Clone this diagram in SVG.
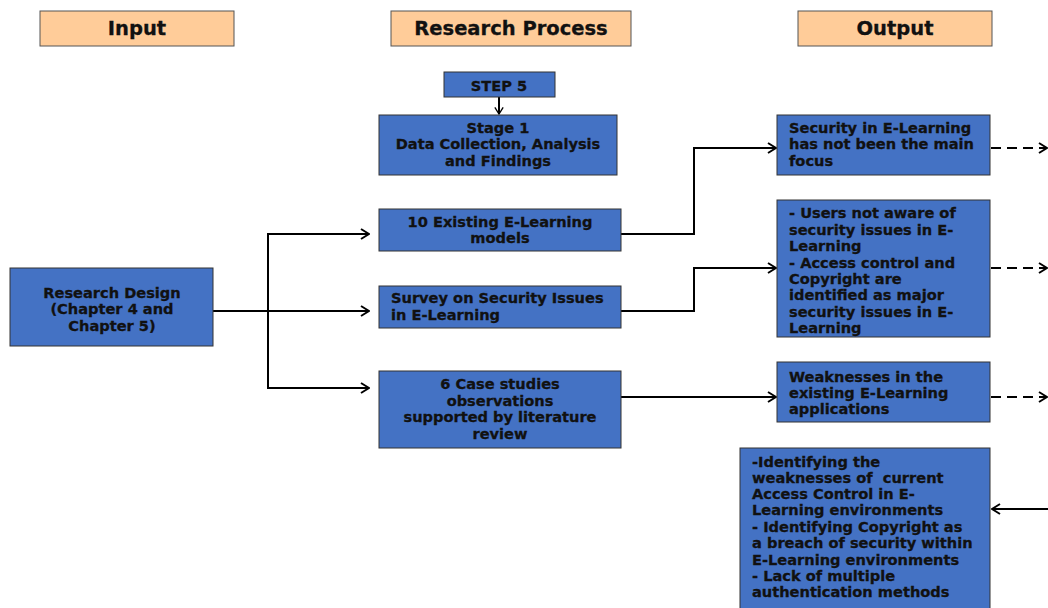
<svg xmlns="http://www.w3.org/2000/svg" width="1048" height="608" viewBox="0 0 1048 608">
  <style>
    .hdr { fill: #FFCC99; stroke: #555; stroke-width: 1; }
    .hdr-t { font-family: "DejaVu Sans", Verdana, sans-serif; font-weight: bold; font-size: 19.5px; fill: #111; stroke: #111; stroke-width: 0.3; text-anchor: middle; }
    .box { fill: #4472C4; stroke: #333; stroke-width: 1; }
    .t { font-family: "DejaVu Sans", Verdana, sans-serif; font-weight: bold; font-size: 14.6px; fill: #111; stroke: #111; stroke-width: 0.3; }
    .c { text-anchor: middle; }
    .ln { fill: none; stroke: #000; stroke-width: 2; }
    .dash { fill: none; stroke: #000; stroke-width: 2; stroke-dasharray: 10 6; }
  </style>
  <defs>
    <marker id="arr" viewBox="0 0 12 12" refX="11" refY="6" markerWidth="12" markerHeight="12" markerUnits="userSpaceOnUse" orient="auto">
      <polyline points="3,1 11,6 3,11" fill="none" stroke="#000" stroke-width="2"/>
    </marker>
    <marker id="arr-s" viewBox="0 0 12 12" refX="11" refY="6" markerWidth="10" markerHeight="10" markerUnits="userSpaceOnUse" orient="auto">
      <polyline points="3,1 11,6 3,11" fill="none" stroke="#000" stroke-width="1.6"/>
    </marker>
  </defs>

  <!-- column headers -->
  <g id="hdr-input">
    <rect class="hdr" x="40" y="11" width="194" height="35"/>
    <text class="hdr-t" x="137" y="35">Input</text>
  </g>
  <g id="hdr-process">
    <rect class="hdr" x="391" y="11" width="240" height="35"/>
    <text class="hdr-t" x="511" y="35">Research Process</text>
  </g>
  <g id="hdr-output">
    <rect class="hdr" x="798" y="11" width="194" height="35"/>
    <text class="hdr-t" x="895" y="35">Output</text>
  </g>

  <!-- connectors -->
  <g id="connectors">
    <line class="ln" x1="499" y1="97" x2="499" y2="114" stroke-width="1.5" marker-end="url(#arr-s)"/>
    <line class="ln" x1="213" y1="311" x2="369" y2="311" marker-end="url(#arr)"/>
    <polyline class="ln" points="369,234 268,234 268,388 369,388"/>
    <line class="ln" x1="268" y1="234" x2="369" y2="234" marker-end="url(#arr)"/>
    <line class="ln" x1="268" y1="388" x2="369" y2="388" marker-end="url(#arr)"/>
    <polyline class="ln" points="621,234 694,234 694,148 776,148" marker-end="url(#arr)"/>
    <polyline class="ln" points="621,311 694,311 694,268 776,268" marker-end="url(#arr)"/>
    <line class="ln" x1="621" y1="397" x2="776" y2="397" marker-end="url(#arr)"/>
    <line class="dash" x1="991" y1="148" x2="1047" y2="148" marker-end="url(#arr)"/>
    <line class="dash" x1="991" y1="268" x2="1047" y2="268" marker-end="url(#arr)"/>
    <line class="dash" x1="991" y1="397" x2="1047" y2="397" marker-end="url(#arr)"/>
    <line class="ln" x1="1048" y1="509" x2="992" y2="509" marker-end="url(#arr)"/>
  </g>

  <!-- input -->
  <g id="research-design">
    <rect class="box" x="10" y="268" width="203" height="78"/>
    <text class="t c" x="112" y="298">Research Design</text>
    <text class="t c" x="112" y="314">(Chapter 4 and</text>
    <text class="t c" x="112" y="331">Chapter 5)</text>
  </g>

  <!-- research process -->
  <g id="step5">
    <rect class="box" x="444" y="72" width="111" height="25"/>
    <text class="t c" x="499" y="91">STEP 5</text>
  </g>
  <g id="stage1">
    <rect class="box" x="379" y="115" width="238" height="60"/>
    <text class="t c" x="498" y="133">Stage 1</text>
    <text class="t c" x="498" y="149">Data Collection, Analysis</text>
    <text class="t c" x="498" y="166">and Findings</text>
  </g>
  <g id="existing-models">
    <rect class="box" x="379" y="209" width="242" height="42"/>
    <text class="t c" x="500" y="227">10 Existing E-Learning</text>
    <text class="t c" x="500" y="243">models</text>
  </g>
  <g id="survey">
    <rect class="box" x="379" y="286" width="242" height="42"/>
    <text class="t" x="391" y="303">Survey on Security Issues</text>
    <text class="t" x="391" y="320">in E-Learning</text>
  </g>
  <g id="case-studies">
    <rect class="box" x="379" y="371" width="242" height="77"/>
    <text class="t c" x="500" y="389">6 Case studies</text>
    <text class="t c" x="500" y="406">observations</text>
    <text class="t c" x="500" y="422">supported by literature</text>
    <text class="t c" x="500" y="439">review</text>
  </g>

  <!-- outputs -->
  <g id="out-focus">
    <rect class="box" x="777" y="115" width="213" height="60"/>
    <text class="t" x="789" y="133">Security in E-Learning</text>
    <text class="t" x="789" y="149">has not been the main</text>
    <text class="t" x="789" y="166">focus</text>
  </g>
  <g id="out-awareness">
    <rect class="box" x="777" y="200" width="213" height="137"/>
    <text class="t" x="789" y="218">- Users not aware of</text>
    <text class="t" x="789" y="235">security issues in E-</text>
    <text class="t" x="789" y="251">Learning</text>
    <text class="t" x="789" y="268">- Access control and</text>
    <text class="t" x="789" y="284">Copyright are</text>
    <text class="t" x="789" y="300">identified as major</text>
    <text class="t" x="789" y="317">security issues in E-</text>
    <text class="t" x="789" y="333">Learning</text>
  </g>
  <g id="out-weaknesses">
    <rect class="box" x="777" y="362" width="213" height="60"/>
    <text class="t" x="789" y="382">Weaknesses in the</text>
    <text class="t" x="789" y="398">existing E-Learning</text>
    <text class="t" x="789" y="414">applications</text>
  </g>
  <g id="findings">
    <rect class="box" x="740" y="448" width="250" height="170"/>
    <text class="t" x="752" y="467">-Identifying the</text>
    <text class="t" x="752" y="483" xml:space="preserve">weaknesses of  current</text>
    <text class="t" x="752" y="499">Access Control in E-</text>
    <text class="t" x="752" y="515">Learning environments</text>
    <text class="t" x="752" y="532">- Identifying Copyright as</text>
    <text class="t" x="752" y="548">a breach of security within</text>
    <text class="t" x="752" y="565">E-Learning environments</text>
    <text class="t" x="752" y="581">- Lack of multiple</text>
    <text class="t" x="752" y="597">authentication methods</text>
  </g>
</svg>
